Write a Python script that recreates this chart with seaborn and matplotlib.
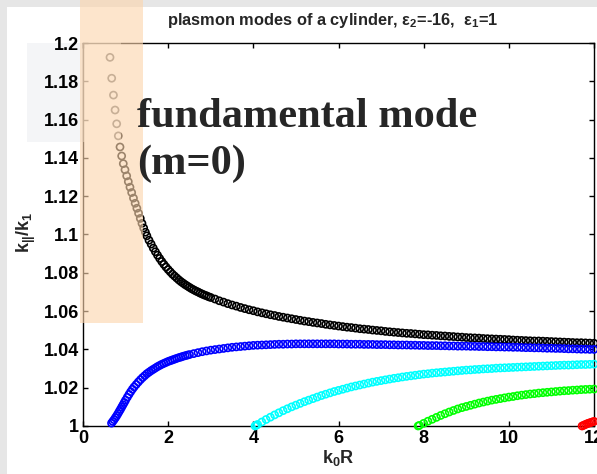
import numpy as np
import pandas as pd
import matplotlib
matplotlib.use("Agg")
import matplotlib.pyplot as plt
from matplotlib.patches import Rectangle
import seaborn as sns

# ---------------------------------------------------------------------------
# Plasmon modes of a metal cylinder (eps2 = -16) in vacuum (eps1 = 1):
# normalised propagation constant k_par / k_1 versus size parameter k_0 R.
# Finer samples where a branch bends, then a regular 0.1 grid in k_0 R.
# ---------------------------------------------------------------------------

# fundamental mode (m = 0)
m0_x_start = [0.634, 0.674, 0.715, 0.753, 0.791, 0.829, 0.869, 0.908, 0.946,
              0.986, 1.026, 1.064, 1.103, 1.143, 1.185, 1.225, 1.265, 1.305,
              1.345, 1.385, 1.425, 1.465, 1.50, 1.55,
              1.60, 1.65, 1.70, 1.75, 1.80, 1.85, 1.90, 1.95, 2.00, 2.05,
              2.10, 2.15, 2.20, 2.25, 2.30, 2.35, 2.40, 2.45, 2.50, 2.55,
              2.60, 2.65, 2.70, 2.75, 2.80, 2.85, 2.90, 2.95, 3.00]
m0_y_start = [1.1925, 1.1816, 1.1728, 1.1650, 1.1578, 1.1515, 1.1457, 1.1410,
              1.1370, 1.1338, 1.1306, 1.1276, 1.1247, 1.1219, 1.1190, 1.1163,
              1.1137, 1.1111, 1.1084, 1.1058, 1.1034, 1.1012, 1.0993, 1.0970,
              1.0950, 1.0929, 1.0910, 1.0892, 1.0875, 1.0859, 1.0844, 1.0830,
              1.0817, 1.0805, 1.0793, 1.0783, 1.0773, 1.0763, 1.0754, 1.0746,
              1.0738, 1.0731, 1.0724, 1.0717, 1.0711, 1.0705, 1.0700, 1.0694,
              1.0689, 1.0684, 1.0680, 1.0675, 1.0671]
m0_grid_from = 3.1
m0_y_grid = [
    1.0663, 1.0654, 1.0647, 1.0639, 1.0632, 1.0626, 1.0619, 1.0613, 1.0607,
    1.0602, 1.0596, 1.0591, 1.0586, 1.0581, 1.0577, 1.0572, 1.0568, 1.0564, 1.0560,
    1.0556, 1.0552, 1.0548, 1.0545, 1.0541, 1.0538, 1.0535, 1.0531, 1.0528, 1.0525,
    1.0522, 1.0519, 1.0516, 1.0514, 1.0511, 1.0508, 1.0506, 1.0504, 1.0501, 1.0499,
    1.0497, 1.0494, 1.0492, 1.0490, 1.0488, 1.0486, 1.0484, 1.0483, 1.0481, 1.0479,
    1.0477, 1.0476, 1.0474, 1.0473, 1.0471, 1.0470, 1.0468, 1.0467, 1.0465, 1.0464,
    1.0462, 1.0461, 1.0460, 1.0459, 1.0457, 1.0456, 1.0455, 1.0454, 1.0453, 1.0452,
    1.0451, 1.0449, 1.0448, 1.0447, 1.0446, 1.0445, 1.0444, 1.0444, 1.0443, 1.0442,
    1.0441, 1.0440, 1.0439, 1.0438, 1.0437, 1.0436, 1.0435, 1.0435, 1.0434, 1.0433,
    1.0432]

# first higher mode (blue)
m1_x_start = [0.67, 0.70, 0.73, 0.76, 0.79, 0.82, 0.85, 0.88, 0.91, 0.94, 0.97,
              1.00, 1.04, 1.08, 1.12, 1.16, 1.20, 1.25, 1.30, 1.35, 1.40, 1.45,
              1.50, 1.55, 1.60, 1.65, 1.70, 1.75, 1.80, 1.85, 1.90, 1.95,
              2.00, 2.05, 2.10, 2.15, 2.20, 2.25, 2.30, 2.35, 2.40, 2.45]
m1_y_start = [1.0015, 1.0024, 1.0033, 1.0043, 1.0053, 1.0064, 1.0076, 1.0087,
              1.0099, 1.0111, 1.0123, 1.0135, 1.0150, 1.0165, 1.0179, 1.0192,
              1.0204, 1.0217, 1.0230, 1.0242, 1.0253, 1.0263,
              1.0273, 1.0281, 1.0289, 1.0296, 1.0303, 1.0310, 1.0316, 1.0322,
              1.0327, 1.0332, 1.0337, 1.0341, 1.0345, 1.0349, 1.0353, 1.0357,
              1.0360, 1.0364, 1.0367, 1.0370]
m1_grid_from = 2.5
m1_y_grid = [
    1.0373, 1.0378, 1.0383, 1.0388, 1.0392,
    1.0396, 1.0399, 1.0402, 1.0405, 1.0408, 1.0411, 1.0413, 1.0415, 1.0417, 1.0419,
    1.0421, 1.0422, 1.0423, 1.0424, 1.0425, 1.0426, 1.0427, 1.0427, 1.0428, 1.0428,
    1.0429, 1.0429, 1.0429, 1.0429, 1.0429, 1.0429, 1.0429, 1.0429, 1.0429, 1.0429,
    1.0428, 1.0428, 1.0428, 1.0427, 1.0427, 1.0427, 1.0426, 1.0426, 1.0426, 1.0425,
    1.0425, 1.0425, 1.0424, 1.0424, 1.0423, 1.0423, 1.0423, 1.0422, 1.0422, 1.0421,
    1.0421, 1.0420, 1.0420, 1.0420, 1.0419, 1.0419, 1.0418, 1.0418, 1.0417, 1.0417,
    1.0417, 1.0416, 1.0416, 1.0415, 1.0415, 1.0414, 1.0414, 1.0413, 1.0413, 1.0412,
    1.0412, 1.0411, 1.0411, 1.0410, 1.0409, 1.0409, 1.0408, 1.0408, 1.0407, 1.0406,
    1.0406, 1.0405, 1.0405, 1.0404, 1.0403, 1.0403, 1.0402, 1.0401, 1.0401, 1.0400,
    1.0400]

# second higher mode (cyan)
m2_x_start = [4.04, 4.07]
m2_y_start = [1.0000, 1.0004]
m2_grid_from = 4.1
m2_y_grid = [
    1.0008, 1.0021, 1.0034, 1.0046, 1.0058, 1.0069, 1.0080, 1.0090, 1.0100,
    1.0109, 1.0118, 1.0127, 1.0135, 1.0143, 1.0151, 1.0159, 1.0166, 1.0173, 1.0180,
    1.0186, 1.0192, 1.0198, 1.0204, 1.0209, 1.0214, 1.0219, 1.0224, 1.0229, 1.0233,
    1.0237, 1.0241, 1.0245, 1.0249, 1.0252, 1.0256, 1.0259, 1.0262, 1.0265, 1.0268,
    1.0271, 1.0273, 1.0276, 1.0278, 1.0280, 1.0282, 1.0284, 1.0286, 1.0288, 1.0290,
    1.0292, 1.0293, 1.0295, 1.0296, 1.0298, 1.0299, 1.0300, 1.0302, 1.0303, 1.0304,
    1.0305, 1.0306, 1.0307, 1.0308, 1.0309, 1.0310, 1.0311, 1.0312, 1.0313, 1.0314,
    1.0315, 1.0316, 1.0317, 1.0318, 1.0318, 1.0319, 1.0320, 1.0321, 1.0321, 1.0322,
    1.0323]

# third higher mode (green)
m3_x_start = [7.87]
m3_y_start = [1.0000]
m3_grid_from = 7.9
m3_y_grid = [
    1.0003,
    1.0014, 1.0025, 1.0035, 1.0045, 1.0055, 1.0064, 1.0073, 1.0081, 1.0089, 1.0096,
    1.0102, 1.0108, 1.0114, 1.0120, 1.0125, 1.0130, 1.0135, 1.0139, 1.0143, 1.0147,
    1.0151, 1.0154, 1.0158, 1.0161, 1.0164, 1.0167, 1.0169, 1.0172, 1.0174, 1.0176,
    1.0178, 1.0180, 1.0182, 1.0184, 1.0185, 1.0187, 1.0188, 1.0190, 1.0191, 1.0192,
    1.0193]

# fourth higher mode (red), just above its cutoff
m4_x_start = [11.72, 11.76, 11.80, 11.84, 11.88, 11.92, 11.96, 12.00]
m4_y_start = [1.0000, 1.0004, 1.0008, 1.0012, 1.0015, 1.0018, 1.0021, 1.0024]
m4_grid_from = None
m4_y_grid = []

mode_names = ["mode 0", "mode 1", "mode 2", "mode 3", "mode 4"]
mode_colors = ["#000000", "#0000ff", "#00ffff", "#00ff00", "#ff0000"]

xticks = [0, 2, 4, 6, 8, 10, 12]
xtick_labels = ["0", "2", "4", "6", "8", "10", "12"]
yticks = [1.00, 1.02, 1.04, 1.06, 1.08, 1.10, 1.12, 1.14, 1.16, 1.18, 1.20]
ytick_labels = ["1", "1.02", "1.04", "1.06", "1.08", "1.1", "1.12", "1.14",
                "1.16", "1.18", "1.2"]


def mode_frame(name, xs, ys, grid_from, y_grid):
    """Long-form table for one mode: irregular head plus 0.1-spaced tail."""
    x_tail = [round(grid_from + 0.1 * i, 2) for i in range(len(y_grid))]
    return pd.DataFrame({"k0R": list(xs) + x_tail,
                         "kratio": list(ys) + list(y_grid),
                         "mode": name})


frames = [
    mode_frame(mode_names[0], m0_x_start, m0_y_start, m0_grid_from, m0_y_grid),
    mode_frame(mode_names[1], m1_x_start, m1_y_start, m1_grid_from, m1_y_grid),
    mode_frame(mode_names[2], m2_x_start, m2_y_start, m2_grid_from, m2_y_grid),
    mode_frame(mode_names[3], m3_x_start, m3_y_start, m3_grid_from, m3_y_grid),
    mode_frame(mode_names[4], m4_x_start, m4_y_start, m4_grid_from, m4_y_grid),
]
df = pd.concat(frames, ignore_index=True)

# ---------------------------------------------------------------------------
sns.set_style("ticks")
plt.rcParams.update({
    "font.family": ["Liberation Sans", "DejaVu Sans"],
    "font.weight": "bold",
    "mathtext.fontset": "custom",
    "mathtext.rm": "Liberation Sans:bold",
    "mathtext.it": "Liberation Sans:bold",
    "mathtext.bf": "Liberation Sans:bold",
    "mathtext.default": "bf",
    "axes.edgecolor": "black",
    "axes.linewidth": 1.0,
    "xtick.color": "black",
    "ytick.color": "black",
})

W, H = 597, 474
fig = plt.figure(figsize=(W / 100, H / 100), dpi=100, facecolor="white")
ax = fig.add_axes([83 / W, 48 / H, 511 / W, 383 / H])
ax.set_facecolor("white")

for name, col in zip(mode_names, mode_colors):
    sns.scatterplot(data=df[df["mode"] == name], x="k0R", y="kratio",
                    ax=ax, marker="o", s=26, facecolor="none",
                    edgecolor=col, linewidth=1.2, clip_on=False,
                    zorder=3, legend=False)

ax.set_xlim(0, 12)
ax.set_ylim(1.0, 1.2)
ax.set_xticks(xticks)
ax.set_xticklabels(xtick_labels)
ax.set_yticks(yticks)
ax.set_yticklabels(ytick_labels)
ax.tick_params(which="both", direction="in", top=True, right=True,
               length=3.5, width=1.0, labelsize=13, pad=3)
ax.set_xlabel("")
ax.set_ylabel("")
for sp in ax.spines.values():
    sp.set_visible(True)
    sp.set_color("black")
    sp.set_linewidth(1.0)

# axis labels and title
fig.text(0.566, 0.024, r"k$_0$R", ha="center", va="baseline", fontsize=13)
fig.text(0.044, 0.51, r"k$_{||}$/k$_1$", rotation=90, ha="center",
         va="center", fontsize=13)
fig.text(0.558, 0.947,
         "plasmon modes of a cylinder, \u03b5$_2$=-16,  \u03b5$_1$=1",
         ha="center", va="baseline", fontsize=11.8)

# slide decoration around the figure
def fig_rect(x0, y0, x1, y1, **kw):
    """Rectangle given in pixel coordinates measured from the top-left."""
    return Rectangle((x0 / W, 1 - y1 / H), (x1 - x0) / W, (y1 - y0) / H,
                     transform=fig.transFigure, linewidth=0, **kw)

fig.add_artist(fig_rect(0, 0, W, 7, facecolor="#e6e6e6", zorder=-2))
fig.add_artist(fig_rect(0, 0, 7, H, facecolor="#e6e6e6", zorder=-2))
fig.add_artist(fig_rect(27, 43, 83, 142, facecolor="#f4f5f7", zorder=-1))
fig.add_artist(fig_rect(83, 40, 121, 142, facecolor="white", alpha=0.45,
                        zorder=4))
fig.add_artist(fig_rect(80, 0, 143, 323, facecolor="#fcd5ad", alpha=0.62,
                        zorder=5))

serif = ["Liberation Serif", "DejaVu Serif"]
fig.text(137 / W, 1 - 127 / H, "fundamental mode", family=serif,
         fontsize=30.5, weight="bold", ha="left", va="baseline", zorder=6)
fig.text(137 / W, 1 - 174 / H, "(m=0)", family=serif,
         fontsize=30.5, weight="bold", ha="left", va="baseline", zorder=6)

fig.savefig("out.png", dpi=100, facecolor="white")
